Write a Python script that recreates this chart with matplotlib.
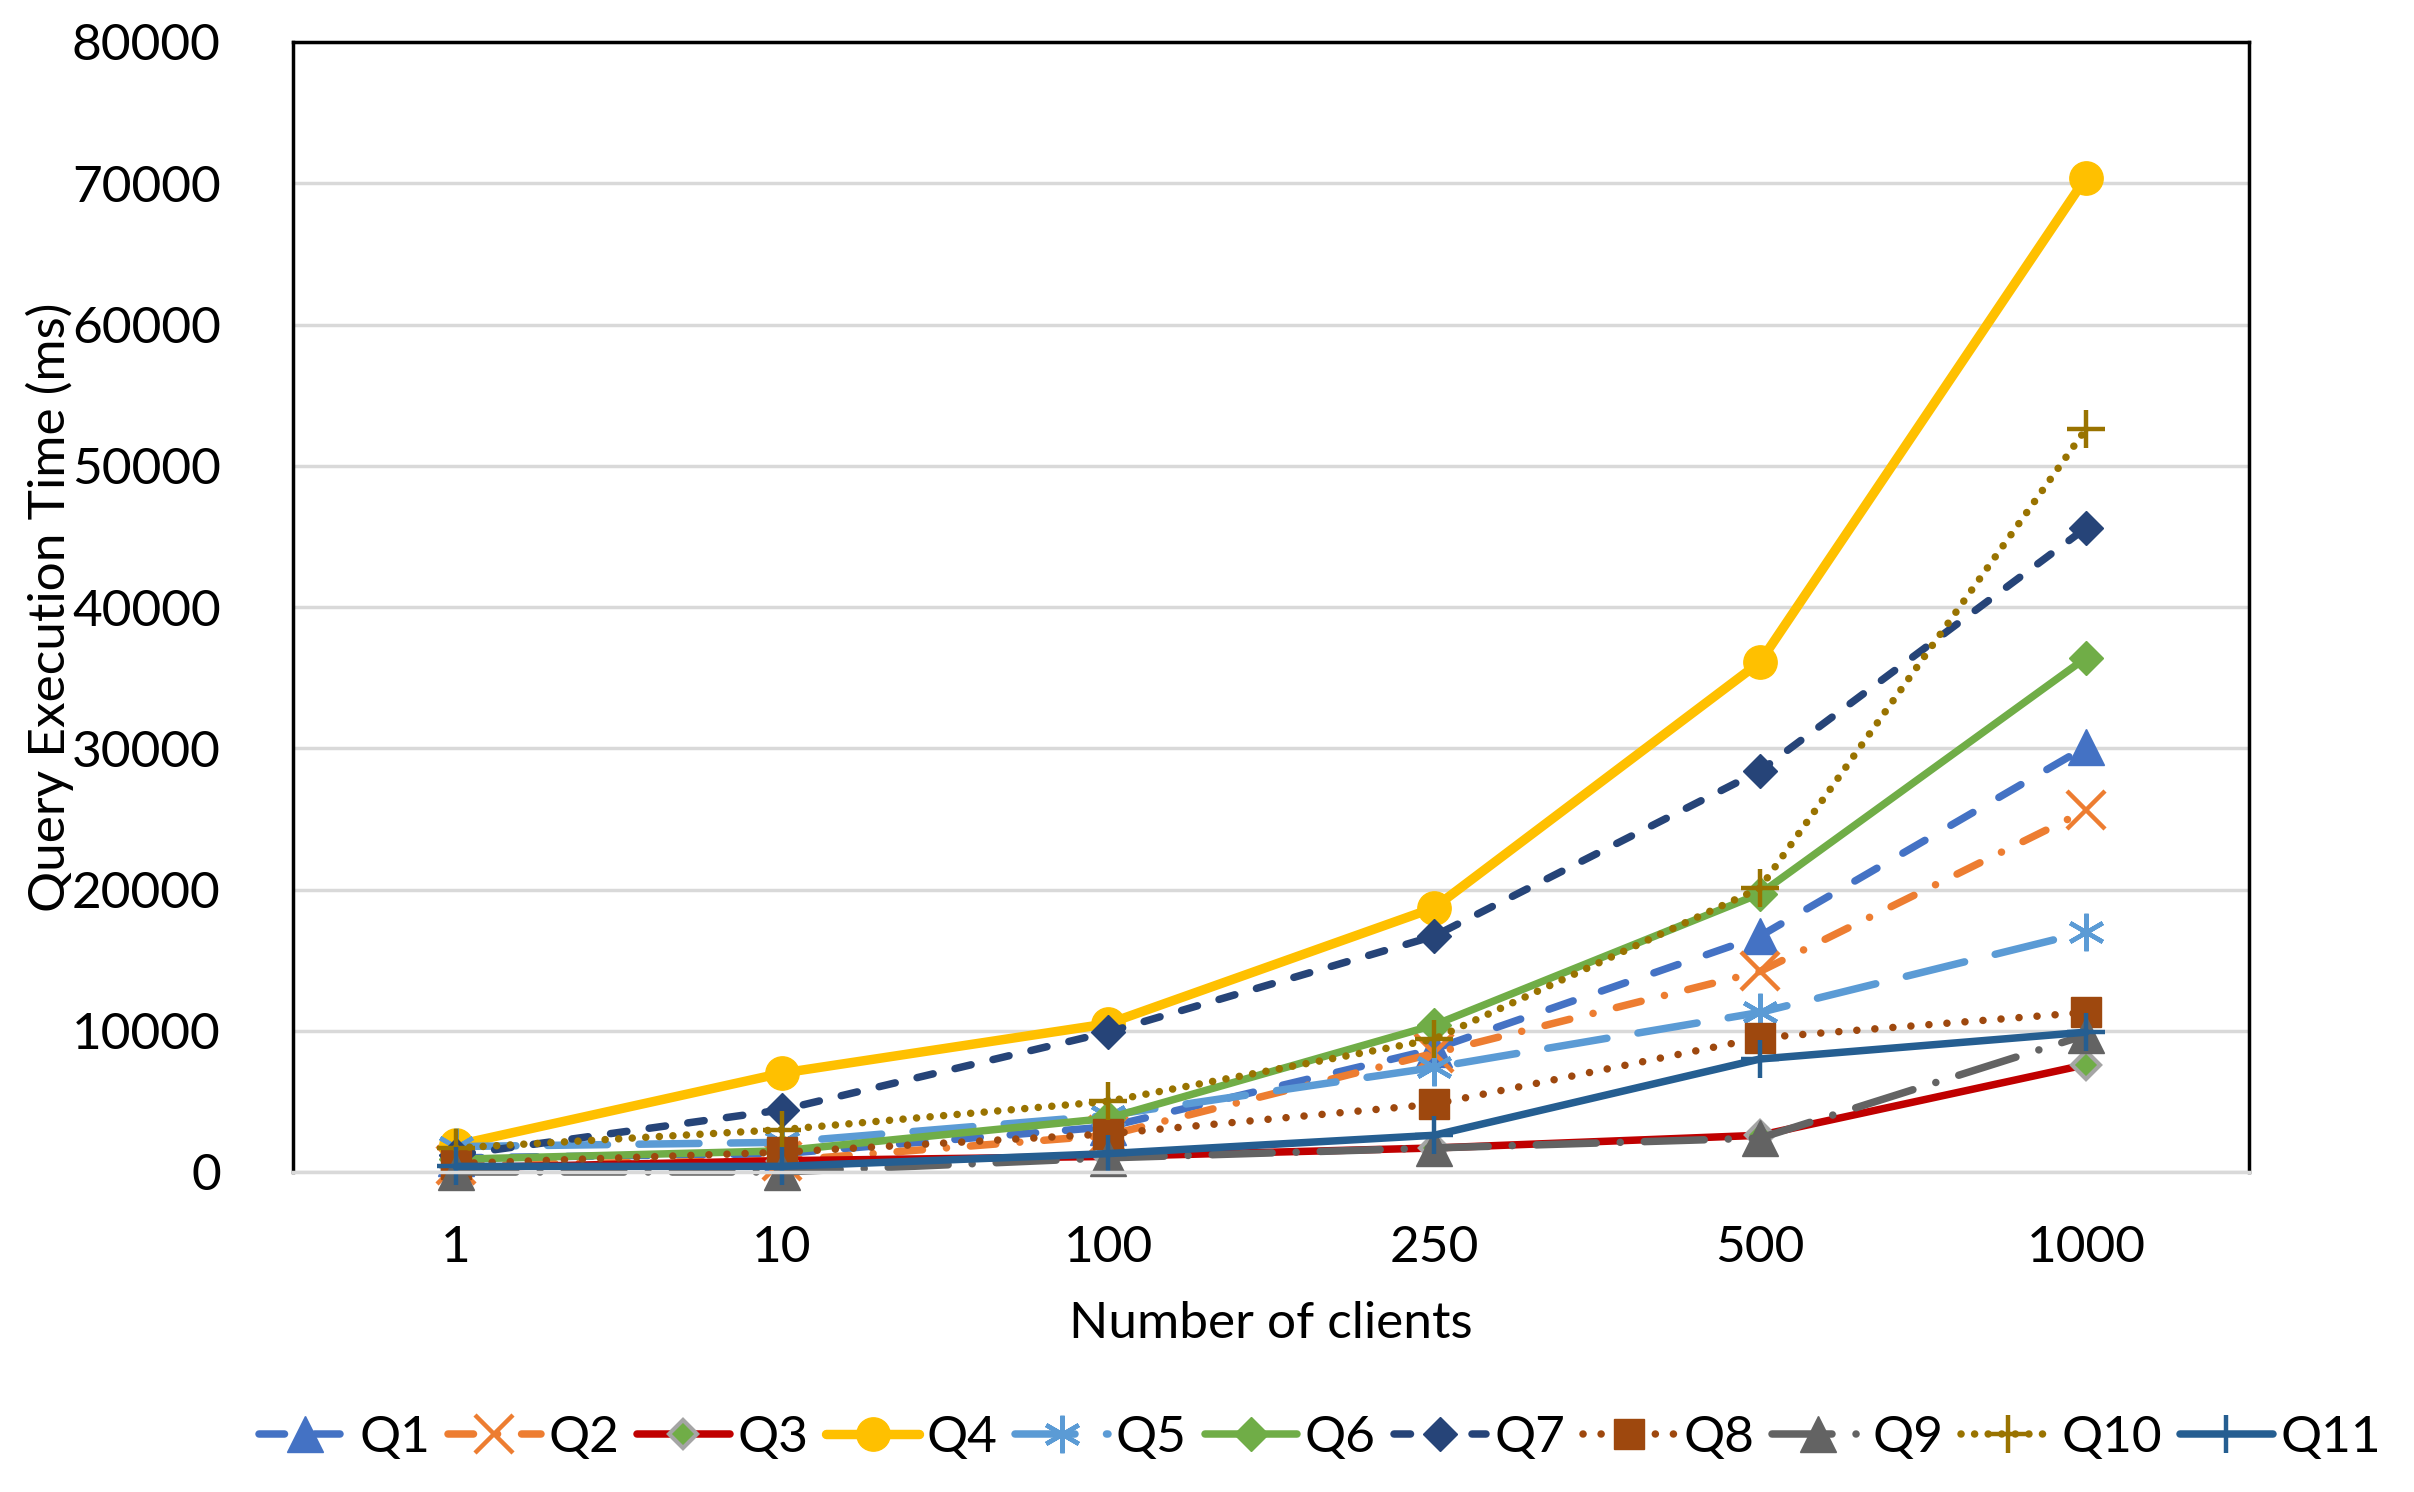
import matplotlib.pyplot as plt
import numpy as np

clients = ['1', '10', '100', '250', '500', '1000']

q1 = [1000, 1300, 3200, 8700, 16700, 30100]
q2 = [500, 800, 2600, 8400, 14200, 25600]
q3 = [300, 800, 1100, 1700, 2600, 7600]
q4 = [1900, 7000, 10500, 18700, 36100, 70400]
q5 = [1800, 2100, 4000, 7400, 11300, 17000]
q6 = [900, 1500, 3800, 10400, 19700, 36400]
q7 = [1200, 4400, 9900, 16700, 28400, 45600]
q8 = [600, 1400, 2700, 4800, 9500, 11300]
q9 = [0, 0, 1000, 1700, 2400, 9700]
q10 = [1700, 3000, 5000, 9400, 20100, 52600]
q11 = [400, 400, 1300, 2600, 8000, 9900]

# name, values, colour, marker, dash pattern (in line widths)
series = [
    ('Q1', q1, '#4472C4', '^', (3.4, 4.0)),
    ('Q2', q2, '#ED7D31', 'x', (3.4, 3.2, 0.01, 3.2)),
    ('Q3', q3, '#C00000', 'D', None),
    ('Q4', q4, '#FFC000', 'o', None),
    ('Q5', q5, '#5B9BD5', '*', (8.0, 4.2)),
    ('Q6', q6, '#70AD47', 'D', None),
    ('Q7', q7, '#264478', 'D', (2.2, 3.0)),
    ('Q8', q8, '#9E480E', 's', (0.01, 2.4)),
    ('Q9', q9, '#636363', '^', (8.0, 3.2, 0.01, 3.2)),
    ('Q10', q10, '#997300', '+', (0.01, 1.8)),
    ('Q11', q11, '#255E91', '+', None),
]

plt.rcParams['font.family'] = ['Lato', 'DejaVu Sans']

fig = plt.figure(figsize=(24.14, 14.92), dpi=100)
ax = fig.add_axes([293 / 2414, 1 - 1172 / 1492, (2249 - 293) / 2414, (1172 - 42) / 1492])

x = np.arange(len(clients))
for name, vals, col, mk, dash in series:
    lw = 6.8 if name == 'Q4' else 5.4
    kw = dict(color=col, lw=lw, marker=mk, markersize=24, label=name,
              solid_capstyle='round', dash_capstyle='round', clip_on=False)
    if mk in ('x', '+'):
        kw['markeredgewidth'] = 3.2
        kw['markersize'] = 27
    elif mk == '*':
        kw['marker'] = (6, 2, 0)
        kw['markeredgewidth'] = 3.2
        kw['markeredgecolor'] = col
        kw['markersize'] = 27
    elif mk == '^':
        kw['markersize'] = 26
    elif mk == 's':
        kw['markersize'] = 22
    if name == 'Q3':
        kw['markerfacecolor'] = '#70AD47'
        kw['markeredgecolor'] = '#A5A5A5'
        kw['markeredgewidth'] = 3
        kw['markersize'] = 14
    if name in ('Q6', 'Q7'):
        kw['markersize'] = 17.5
    line, = ax.plot(x, vals, **kw)
    if dash is not None:
        line.set_dashes(dash)

ax.set_xlim(-0.5, len(clients) - 0.5)
ax.set_ylim(0, 80000)
ax.set_yticks(np.arange(0, 80001, 10000))
ax.set_xticks(x)
ax.set_xticklabels(clients)
ax.tick_params(axis='both', length=0, labelsize=37)
ax.tick_params(axis='y', pad=52)
ax.tick_params(axis='x', pad=38)
ax.yaxis.grid(True, color='#D9D9D9', lw=2.5)
ax.set_axisbelow(True)
for s in ('left', 'top', 'right'):
    ax.spines[s].set_color('black')
    ax.spines[s].set_linewidth(2.5)
ax.spines['bottom'].set_color('#D9D9D9')
ax.spines['bottom'].set_linewidth(2.5)

ax.set_xlabel('Number of clients', fontsize=37, labelpad=22)
fig.text(50 / 2414, 1 - 607 / 1492, 'Query Execution Time (ms)', rotation=90,
         fontsize=37, ha='center', va='center')

fig.legend(loc='center', bbox_to_anchor=(1320 / 2414, 1 - 1438 / 1492), ncol=11,
           frameon=False, fontsize=37, handlelength=1.8, handletextpad=0.15,
           columnspacing=0.35, borderaxespad=0, borderpad=0)

fig.savefig('out.png', dpi=100)
